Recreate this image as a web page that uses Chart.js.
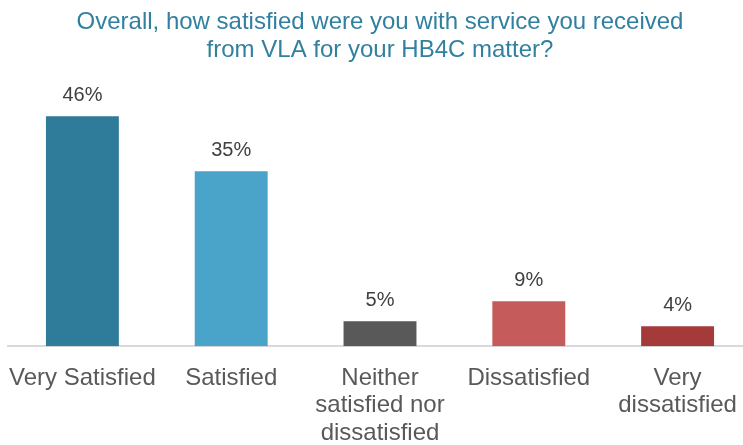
<!DOCTYPE html>
<html>
<head>
<meta charset="utf-8">
<script src="https://cdn.jsdelivr.net/npm/chart.js@4/dist/chart.umd.min.js"></script>
<style>
  html, body { margin: 0; padding: 0; background: #fff; overflow: hidden; }
  #wrap { position: relative; width: 752px; height: 449px; }
</style>
</head>
<body>
<div id="wrap"><canvas id="satChart"></canvas></div>
<script>
// --- data ---
const categories = [
  'Very Satisfied',
  'Satisfied',
  ['Neither', 'satisfied nor', 'dissatisfied'],
  'Dissatisfied',
  ['Very', 'dissatisfied']
];
const percentValues = [46, 35, 5, 9, 4];
const barColors = ['#2f7b9a', '#4aa3c8', '#595959', '#c55b5b', '#a53a3b'];
const chartTitle = ['Overall, how satisfied were you with service you received', 'from VLA for your HB4C matter?'];

// value labels above each bar
const barValueLabels = {
  id: 'barValueLabels',
  afterDatasetsDraw(chart) {
    const ctx = chart.ctx;
    const meta = chart.getDatasetMeta(0);
    ctx.save();
    ctx.font = '20px "Liberation Sans", Arial, sans-serif';
    ctx.fillStyle = '#404040';
    ctx.textAlign = 'center';
    ctx.textBaseline = 'alphabetic';
    meta.data.forEach((bar, i) => {
      ctx.fillText(percentValues[i] + '%', bar.x, bar.y - 15);
    });
    ctx.restore();
  }
};

const ctx = document.getElementById('satChart').getContext('2d');
new Chart(ctx, {
  type: 'bar',
  data: {
    labels: categories,
    datasets: [{
      data: percentValues,
      backgroundColor: barColors,
      borderWidth: 0,
      categoryPercentage: 1,
      barPercentage: 0.49
    }]
  },
  options: {
    responsive: true,
    maintainAspectRatio: false,
    animation: false,
    layout: { padding: { left: 8, right: 0, top: 0, bottom: 0 } },
    plugins: {
      legend: { display: false },
      tooltip: { enabled: false },
      title: {
        display: true,
        text: chartTitle,
        color: '#31809f',
        font: { family: '"Liberation Sans", Arial, sans-serif', size: 24, weight: 'normal', lineHeight: 1.15 },
        padding: { top: 9, bottom: 32 }
      }
    },
    scales: {
      x: {
        // tick marks hidden, but their length keeps the labels clear of the axis line
        grid: { display: false, drawTicks: true, tickLength: 16 },
        border: { display: true, color: '#d9d9d9', width: 2 },
        ticks: {
          color: '#595959',
          padding: 2,
          maxRotation: 0,
          autoSkip: false,
          font: { family: '"Liberation Sans", Arial, sans-serif', size: 24, lineHeight: 1.15 }
        }
      },
      y: {
        display: false,
        min: 0,
        max: 50
      }
    }
  },
  plugins: [barValueLabels]
});
</script>
</body>
</html>
